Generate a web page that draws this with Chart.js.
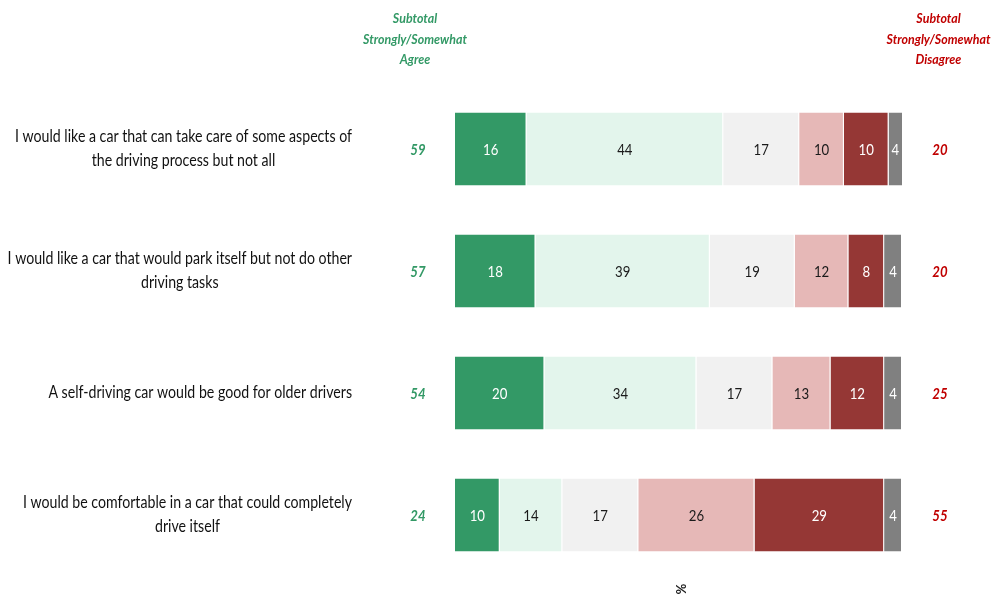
<!DOCTYPE html>
<html>
<head>
<meta charset="utf-8">
<script src="https://cdn.jsdelivr.net/npm/chart.js@4.4.1/dist/chart.umd.min.js"></script>
<style>
html,body{margin:0;padding:0;background:#fff;}
#wrap{width:992px;height:596px;position:relative;}
</style>
</head>
<body>
<div id="wrap"><canvas id="c"></canvas></div>
<script>
const categories = [
  ["I would like a car that can take care of some aspects of", "the driving process but not all"],
  ["I would like a car that would park itself but not do other", "driving tasks"],
  ["A self-driving car would be good for older drivers"],
  ["I would be comfortable in a car that could completely", "drive itself"]
];
const seriesNames = ["Strongly agree", "Somewhat agree", "Neither", "Somewhat disagree", "Strongly disagree", "Don't know"];
const stronglyAgree    = [16, 18, 20, 10];
const somewhatAgree    = [44, 39, 34, 14];
const neither          = [17, 19, 17, 17];
const somewhatDisagree = [10, 12, 13, 26];
const stronglyDisagree = [10, 8, 12, 29];
const dontKnow         = [4, 4, 4, 4];
const subtotalAgree    = [59, 57, 54, 24];
const subtotalDisagree = [20, 20, 25, 55];
const headerAgree    = ["Subtotal", "Strongly/Somewhat", "Agree"];
const headerDisagree = ["Subtotal", "Strongly/Somewhat", "Disagree"];
const axisTitle = "%";

const FONT = 'Lato, "Open Sans", sans-serif';
const fills  = ["#339966", "#E3F5EC", "#F1F1F1", "#E6B8B7", "#953735", "#808080"];
const labelColors = ["#ffffff", "#1a1a1a", "#1a1a1a", "#1a1a1a", "#ffffff", "#ffffff"];
const seriesData = [stronglyAgree, somewhatAgree, neither, somewhatDisagree, stronglyDisagree, dontKnow];

function condensedText(ctx, text, x, y, k) {
  ctx.save();
  ctx.translate(x, y);
  ctx.scale(k, 1);
  ctx.fillText(text, 0, 0);
  ctx.restore();
}

const textPlugin = {
  id: 'textPlugin',
  afterDatasetsDraw(chart) {
    const ctx = chart.ctx;
    const y = chart.scales.y;
    const area = chart.chartArea;
    ctx.save();
    ctx.textAlign = 'center';
    ctx.textBaseline = 'middle';

    // category labels (condensed to the reference width)
    ctx.font = '17px ' + FONT;
    const kLab = 337 / ctx.measureText(categories[0][0]).width;
    ctx.fillStyle = '#111111';
    const rightEdge = 352, lh = 24;
    categories.forEach((lines, i) => {
      const cy = y.getPixelForValue(i);
      const maxW = Math.max(...lines.map(l => ctx.measureText(l).width)) * kLab;
      const cx = rightEdge - maxW / 2;
      lines.forEach((l, k) => {
        condensedText(ctx, l, cx, cy + (k - (lines.length - 1) / 2) * lh, kLab);
      });
    });

    // segment values
    ctx.font = '15px ' + FONT;
    chart.data.datasets.forEach((ds, di) => {
      const meta = chart.getDatasetMeta(di);
      meta.data.forEach((bar, i) => {
        const left = Math.min(bar.x, bar.base);
        const right = Math.min(Math.max(bar.x, bar.base), area.right);
        ctx.fillStyle = labelColors[di];
        condensedText(ctx, String(ds.data[i]), (left + right) / 2, bar.y + 1, 0.88);
      });
    });

    // subtotals
    ctx.font = 'italic bold 15px ' + FONT;
    subtotalAgree.forEach((v, i) => {
      ctx.fillStyle = '#339966';
      condensedText(ctx, String(v), 418, y.getPixelForValue(i) + 1, 0.88);
    });
    subtotalDisagree.forEach((v, i) => {
      ctx.fillStyle = '#C00000';
      condensedText(ctx, String(v), 940, y.getPixelForValue(i) + 1, 0.88);
    });

    // headers
    ctx.font = 'italic bold 13px ' + FONT;
    const kHead = 104 / ctx.measureText(headerAgree[1]).width;
    headerAgree.forEach((t, k) => {
      ctx.fillStyle = '#339966';
      condensedText(ctx, t, 415, 19 + k * 20.5, kHead);
    });
    headerDisagree.forEach((t, k) => {
      ctx.fillStyle = '#C00000';
      condensedText(ctx, t, 938.5, 19 + k * 20.5, kHead);
    });

    // axis title rotated
    ctx.save();
    ctx.translate((area.left + area.right) / 2 + 2, 589);
    ctx.rotate(Math.PI / 2);
    ctx.font = 'bold 13px ' + FONT;
    ctx.fillStyle = '#222222';
    ctx.fillText(axisTitle, 0, 0);
    ctx.restore();
    ctx.restore();
  }
};

new Chart(document.getElementById('c'), {
  type: 'bar',
  data: {
    labels: categories,
    datasets: seriesData.map((d, i) => ({
      label: seriesNames[i],
      data: d,
      backgroundColor: fills[i],
      borderColor: '#ffffff',
      borderWidth: {left: 0, right: 1, top: 0, bottom: 0},
      borderSkipped: false,
      categoryPercentage: 1.0,
      barPercentage: 0.6
    }))
  },
  options: {
    indexAxis: 'y',
    responsive: true,
    maintainAspectRatio: false,
    animation: false,
    layout: { padding: { left: 455, right: 90, top: 88, bottom: 20 } },
    plugins: { legend: { display: false }, tooltip: { enabled: false } },
    scales: {
      x: { stacked: true, min: 0, max: 100, display: false },
      y: { stacked: true, display: false }
    }
  },
  plugins: [textPlugin]
});
</script>
</body>
</html>
